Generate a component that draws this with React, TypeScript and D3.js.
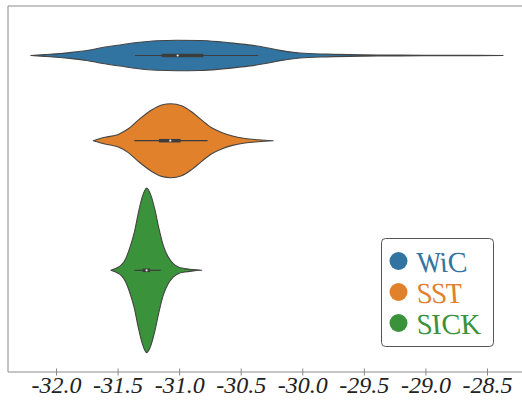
import React, { useEffect, useRef } from "react";
import * as d3 from "d3";

// categories and legend labels
const categories = ["WiC", "SST", "SICK"];
const colors = ["#3274a1", "#e1812c", "#3a923a"];

// violin outlines: value along x, kde density
const wicValues = [-32.205, -32.09, -31.886, -31.75, -31.62, -31.48, -31.343, -31.18, -31.018, -30.83, -30.669, -30.53, -30.4, -30.3, -30.18, -30.02, -29.8, -29.53, -29.21, -28.8, -28.37];
const wicDensity = [0, 0.04, 0.13, 0.22, 0.36, 0.47, 0.58, 0.66, 0.68, 0.67, 0.61, 0.53, 0.45, 0.36, 0.23, 0.11, 0.06, 0.03, 0.018, 0.009, 0];

const sstValues = [-31.697, -31.602, -31.494, -31.413, -31.332, -31.223, -31.142, -31.067, -30.98, -30.899, -30.817, -30.736, -30.655, -30.574, -30.466, -30.358, -30.236];
const sstDensity = [0, 0.15, 0.28, 0.53, 0.92, 1.37, 1.59, 1.65, 1.56, 1.29, 0.92, 0.58, 0.37, 0.22, 0.1, 0.045, 0];

const sickValues = [-31.554, -31.507, -31.467, -31.434, -31.399, -31.364, -31.332, -31.3, -31.264, -31.229, -31.196, -31.164, -31.129, -31.088, -31.048, -31.007, -30.953, -30.886, -30.817];
const sickDensity = [0, 0.1, 0.25, 0.52, 1.03, 1.69, 2.54, 3.26, 3.67, 3.34, 2.68, 1.86, 1.11, 0.59, 0.3, 0.15, 0.076, 0.03, 0];

// box stats: [whisker low, q1, median, q3, whisker high]
const wicBox = [-31.359, -31.142, -31.012, -30.804, -30.358];
const sstBox = [-31.364, -31.164, -31.072, -30.988, -30.769];
const sickBox = [-31.364, -31.297, -31.264, -31.236, -31.149];

const xTicks = [-32.0, -31.5, -31.0, -30.5, -30.0, -29.5, -29.0, -28.5];

const WIDTH = 522;
const HEIGHT = 400;

const App = () => {
  const ref = useRef<SVGSVGElement>(null);

  useEffect(() => {
    const svg = d3.select(ref.current);
    svg.selectAll("*").remove();

    const left = 8, top = 6, bottom = 372;

    const x = d3.scaleLinear().domain([-32, -28.5]).range([56, 487]);
    const y = d3.scaleOrdinal<string, number>().domain(categories).range([55.5, 140.7, 270.3]);

    const allDensity = [...wicDensity, ...sstDensity, ...sickDensity];
    const w = d3.scaleLinear().domain([0, d3.max(allDensity) as number]).range([0, 82.3]);

    const series = [
      { name: "WiC", values: wicValues, density: wicDensity, box: wicBox },
      { name: "SST", values: sstValues, density: sstDensity, box: sstBox },
      { name: "SICK", values: sickValues, density: sickDensity, box: sickBox },
    ];

    const serif = "'Liberation Serif', 'Times New Roman', serif";

    // spines
    const spine = "#8a8a8a";
    svg.append("line").attr("x1", left).attr("x2", WIDTH + 10).attr("y1", top).attr("y2", top)
      .attr("stroke", spine).attr("stroke-width", 1);
    svg.append("line").attr("x1", left).attr("x2", left).attr("y1", top).attr("y2", bottom)
      .attr("stroke", spine).attr("stroke-width", 1);

    // x axis
    const axis = svg.append("g").attr("transform", `translate(0,${bottom})`)
      .call(d3.axisBottom(x).tickValues(xTicks).tickSize(0).tickFormat((d) => d3.format(".1f")(d as number).replace("−", "-")));
    axis.select(".domain").attr("d", `M${left},0H${WIDTH + 10}`).attr("stroke", spine);
    axis.selectAll(".tick line").attr("y1", -3.5).attr("y2", 3.5).attr("stroke", spine);
    axis.selectAll(".tick text")
      .attr("y", 0).attr("dy", "21px")
      .attr("font-family", serif).attr("font-style", "italic").attr("font-size", 24)
      .attr("fill", "#222");

    series.forEach((s, i) => {
      const cy = y(s.name);
      const pts = s.values.map((v, k) => ({ v, d: s.density[k] }));
      const area = d3.area<{ v: number; d: number }>()
        .x((d) => x(d.v))
        .y0((d) => cy - w(d.d))
        .y1((d) => cy + w(d.d))
        .curve(d3.curveMonotoneX);

      svg.append("path").attr("d", area(pts))
        .attr("fill", colors[i]).attr("stroke", "#444").attr("stroke-width", 1.1)
        .attr("stroke-linejoin", "round");

      const [lo, q1, med, q3, hi] = s.box;
      svg.append("line").attr("x1", x(lo)).attr("x2", x(hi)).attr("y1", cy).attr("y2", cy)
        .attr("stroke", "#3d3d3d").attr("stroke-width", 1.2);
      svg.append("line").attr("x1", x(q1)).attr("x2", x(q3)).attr("y1", cy).attr("y2", cy)
        .attr("stroke", "#3d3d3d").attr("stroke-width", 3.5);
      svg.append("circle").attr("cx", x(med)).attr("cy", cy).attr("r", 1.1).attr("fill", "#eee");
    });

    // legend (only the italic serif face is available, so it is skewed back upright)
    const lg = svg.append("g");
    lg.append("rect").attr("x", 381.5).attr("y", 238.5).attr("width", 112).attr("height", 108)
      .attr("rx", 4).attr("fill", "#fff").attr("stroke", "#555").attr("stroke-width", 1);
    categories.forEach((c, i) => {
      const cy = 261 + i * 31;
      lg.append("circle").attr("cx", 398.5).attr("cy", cy).attr("r", 9).attr("fill", colors[i]);
      lg.append("text").attr("transform", `translate(419,${cy + 10.5}) skewX(14)`).text(c)
        .attr("font-family", serif).attr("font-style", "italic").attr("font-size", 29)
        .attr("fill", colors[i]);
    });
  }, []);

  return (
    <svg ref={ref} width={WIDTH} height={HEIGHT}
      style={{ position: "absolute", left: 0, top: 0, background: "#fff" }} />
  );
};

export default App;
